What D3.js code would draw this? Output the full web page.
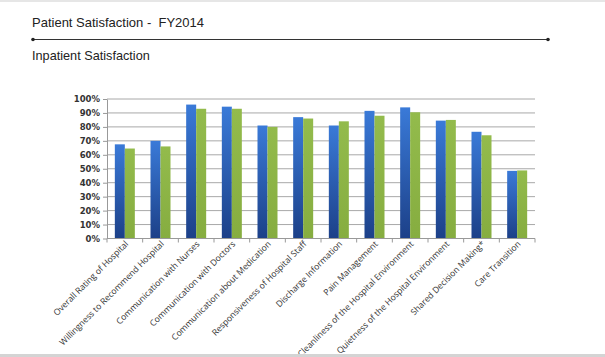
<!DOCTYPE html>
<html><head><meta charset="utf-8">
<script src="https://cdn.jsdelivr.net/npm/d3@7"></script>
<style>body{margin:0;background:#fff}svg{display:block}</style>
</head><body>
<script>
const categories = ["Overall Rating of Hospital","Willingness to Recommend Hospital","Communication with Nurses","Communication with Doctors","Communication about Medication","Responsiveness of Hospital Staff","Discharge Information","Pain Management","Cleanliness of the Hospital Environment","Quietness of the Hospital Environment","Shared Decision Making*","Care Transition"];
const seriesBlue = [67.5,70,96,94.5,81,87,81,91.5,94,84.5,76.5,48.5];
const seriesGreen = [64.5,66,93,93,80,86,84,88,90.5,85,74,48.8];
const yTicks = [0,10,20,30,40,50,60,70,80,90,100];

const W=605,H=357;
const svg=d3.select("body").append("svg").attr("width",W).attr("height",H);
const defs=svg.append("defs");
const gb=defs.append("linearGradient").attr("id","gb").attr("x1",0).attr("y1",0).attr("x2",0).attr("y2",1);
gb.append("stop").attr("offset","0%").attr("stop-color","#3a7ad8");
gb.append("stop").attr("offset","100%").attr("stop-color","#1c4088");
const gg=defs.append("linearGradient").attr("id","gg").attr("x1",0).attr("y1",0).attr("x2",0).attr("y2",1);
gg.append("stop").attr("offset","0%").attr("stop-color","#93bb4c");
gg.append("stop").attr("offset","100%").attr("stop-color","#86ad40");

svg.append("rect").attr("x",0).attr("y",0).attr("width",W).attr("height",2).attr("fill","#e6e6e6");

svg.append("text").attr("x",32).attr("y",27).text("Patient Satisfaction -  FY2014")
  .attr("font-family","Liberation Sans, Arial, sans-serif").attr("font-size",13).attr("fill","#222").style("white-space","pre");
svg.append("line").attr("x1",33).attr("x2",548).attr("y1",39.5).attr("y2",39.5).attr("stroke","#333").attr("stroke-width",1.2);
svg.append("circle").attr("cx",33).attr("cy",39.5).attr("r",1.8).attr("fill","#222");
svg.append("circle").attr("cx",548).attr("cy",39.5).attr("r",1.8).attr("fill","#222");
svg.append("text").attr("x",32).attr("y",60).text("Inpatient Satisfaction")
  .attr("font-family","Liberation Sans, Arial, sans-serif").attr("font-size",12.7).attr("fill","#222");

const x0=107,x1=535,yTop=99,yBot=238.5;
const x=d3.scaleBand().domain(categories).range([x0,x1]).paddingInner(0).paddingOuter(0);
const y=d3.scaleLinear().domain([0,100]).range([yBot,yTop]);
const sub=d3.scaleBand().domain(["b","g"]).range([0,20]);

svg.append("g").selectAll("line").data(yTicks.filter(d=>d>0)).join("line")
  .attr("x1",x0).attr("x2",x1).attr("y1",d=>y(d)).attr("y2",d=>y(d))
  .attr("stroke","#a8a8a8").attr("stroke-width",1);

const off=(x.bandwidth()-20)/2;
const g=svg.append("g");
g.selectAll(".b").data(categories).join("rect")
  .attr("x",d=>x(d)+off+sub("b")).attr("width",sub.bandwidth())
  .attr("y",(d,i)=>y(seriesBlue[i])).attr("height",(d,i)=>yBot-y(seriesBlue[i]))
  .attr("fill","url(#gb)");
g.selectAll(".g").data(categories).join("rect")
  .attr("x",d=>x(d)+off+sub("g")).attr("width",sub.bandwidth())
  .attr("y",(d,i)=>y(seriesGreen[i])).attr("height",(d,i)=>yBot-y(seriesGreen[i]))
  .attr("fill","url(#gg)");

const ya=svg.append("g").attr("transform",`translate(${x0},0)`)
  .call(d3.axisLeft(y).tickValues(yTicks).tickFormat(d=>d+"%").tickSize(4).tickSizeOuter(0));
ya.select(".domain").attr("stroke","#999");
ya.selectAll(".tick line").attr("stroke","#999");
ya.selectAll("text").attr("font-family","DejaVu Sans, sans-serif").attr("font-size",8.5).attr("fill","#333").attr("font-weight","bold").attr("x",-7);

const xa=svg.append("g").attr("transform",`translate(0,${yBot})`);
xa.append("line").attr("x1",x0).attr("x2",x1).attr("stroke","#999");
xa.selectAll(".t").data(categories.concat(["_end"])).join("line")
  .attr("x1",(d,i)=>x0+i*x.bandwidth()).attr("x2",(d,i)=>x0+i*x.bandwidth())
  .attr("y1",0).attr("y2",4).attr("stroke","#999");
xa.selectAll("text").data(categories).join("text")
  .attr("transform",d=>`translate(${x(d)+x.bandwidth()/2+4},${6}) rotate(-45)`)
  .attr("text-anchor","end")
  .attr("font-family","Open Sans, Liberation Sans, sans-serif").attr("font-size",8.6).attr("fill","#333")
  .text(d=>d);

svg.append("rect").attr("x",0).attr("y",354).attr("width",W).attr("height",3).attr("fill","#d4d4d4");
</script>
</body></html>
